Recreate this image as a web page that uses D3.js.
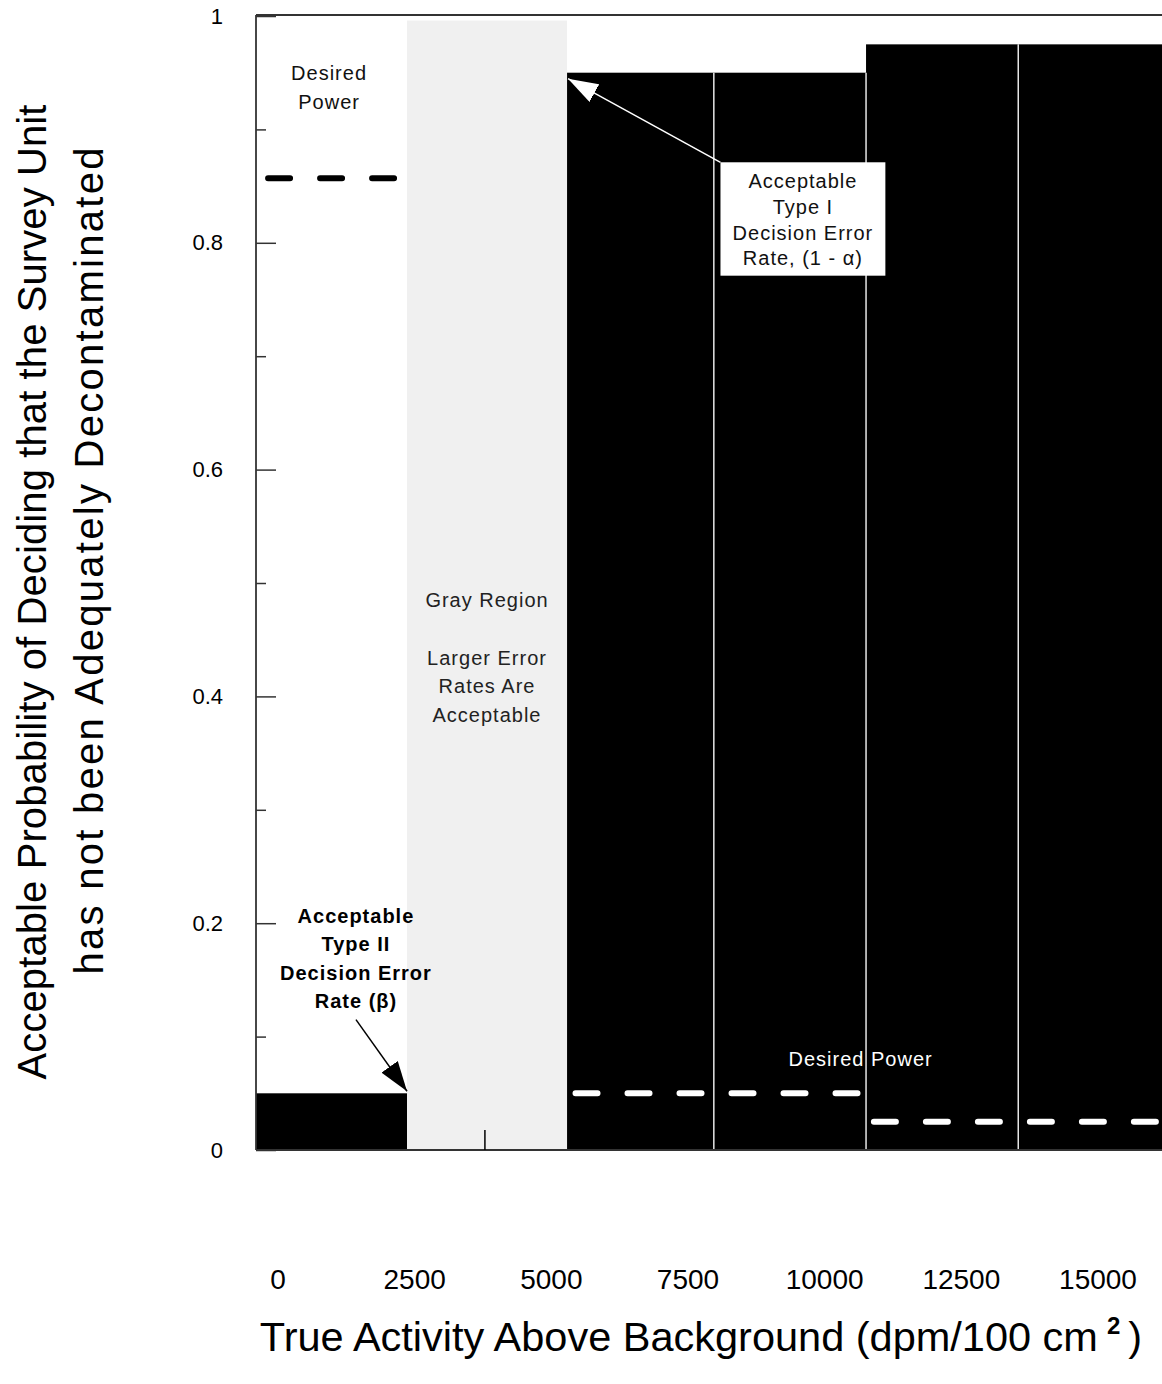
<!DOCTYPE html>
<html>
<head>
<meta charset="utf-8">
<script src="https://cdn.jsdelivr.net/npm/d3@7"></script>
<style>
  body { margin: 0; background: #fff; }
  text { font-family: "Liberation Sans", Arial, sans-serif; }
</style>
</head>
<body>
<svg class="chart"></svg>
<script>
// bins along the activity axis (dpm/100 cm2)
const binEdges = [0, 2500, 5150, 7580, 10100, 12620, 15000];
const binValues = [0.05, 0.996, 0.95, 0.95, 0.975, 0.975];
const binType = ["error", "gray", "error", "error", "error", "error"];

// desired power dashed levels
const powerLevels = [0.857, 0.05, 0.025];
const powerStart = [200, 5290, 10230];
const powerEnd = [2290, 10100, 15000];

const yTicks = [0, 0.2, 0.4, 0.6, 0.8, 1];
const yMinorTicks = [0.1, 0.3, 0.5, 0.7, 0.9];
const xTickLabels = ["0", "2500", "5000", "7500", "10000", "12500", "15000"];
const xMinorTicks = [3790];

const width = 1162, height = 1384;
const margin = { left: 256, right: 0, top: 16, bottom: 234 };

const svg = d3.select(".chart").attr("width", width).attr("height", height);

const x = d3.scaleLinear().domain([0, 15000]).range([margin.left, width - margin.right]);
const y = d3.scaleLinear().domain([0, 1]).range([height - margin.bottom, margin.top]);

const bins = binValues.map((v, i) => ({ x0: binEdges[i], x1: binEdges[i + 1], v: v, type: binType[i] }));

svg.append("defs").selectAll("marker")
  .data([["headBlack", "#000"], ["headWhite", "#fff"]])
  .join("marker")
  .attr("id", d => d[0])
  .attr("viewBox", "0 0 30 20").attr("refX", 30).attr("refY", 10)
  .attr("markerWidth", 30).attr("markerHeight", 20)
  .attr("markerUnits", "userSpaceOnUse").attr("orient", "auto")
  .append("path").attr("d", "M0,0 L30,10 L0,20 Z").attr("fill", d => d[1]);

// bars
svg.append("g").selectAll("rect")
  .data(bins)
  .join("rect")
  .attr("x", d => x(d.x0))
  .attr("width", d => x(d.x1) - x(d.x0))
  .attr("y", d => y(d.v))
  .attr("height", d => y(0) - y(d.v))
  .attr("fill", d => d.type === "gray" ? "#f0f0f0" : "#000");

// thin white separators between adjacent black bins
const seps = bins.filter((d, i) => i > 0 && d.type === "error" && bins[i - 1].type === "error");
svg.append("g").selectAll("line")
  .data(seps)
  .join("line")
  .attr("x1", d => x(d.x0)).attr("x2", d => x(d.x0))
  .attr("y1", y(0)).attr("y2", d => y(Math.min(d.v, bins[binEdges.indexOf(d.x0) - 1].v)))
  .attr("stroke", "#e6e6e6").attr("stroke-width", 1.5);

// desired power dashes
svg.append("g").selectAll("line")
  .data(powerLevels)
  .join("line")
  .attr("x1", (d, i) => x(powerStart[i]))
  .attr("x2", (d, i) => x(powerEnd[i]))
  .attr("y1", d => y(d)).attr("y2", d => y(d))
  .attr("stroke", (d, i) => i === 0 ? "#000" : "#fff")
  .attr("stroke-width", 6)
  .attr("stroke-linecap", "round")
  .attr("stroke-dasharray", "22,30");

// axes frame
const frame = svg.append("g").attr("stroke", "#333").attr("stroke-width", 1.8).attr("fill", "none");
frame.append("line").attr("x1", x(0)).attr("x2", x(0)).attr("y1", y(1) - 1).attr("y2", y(0));
frame.append("line").attr("x1", x(0)).attr("x2", x(15000)).attr("y1", y(1) - 1).attr("y2", y(1) - 1);
frame.append("line").attr("x1", x(0)).attr("x2", x(15000)).attr("y1", y(0)).attr("y2", y(0));

// y axis, ticks pointing inward
const yAxis = svg.append("g").attr("transform", `translate(${x(0)},0)`)
  .call(d3.axisLeft(y).tickValues(yTicks).tickSize(-20).tickPadding(33).tickFormat(d3.format("~g")));
yAxis.select(".domain").remove();
yAxis.selectAll("line").attr("stroke", "#333").attr("stroke-width", 1.5);
yAxis.selectAll("text").attr("font-size", 22).attr("fill", "#000")
  .style("font-family", "'Liberation Sans', Arial, sans-serif");

const yMinor = svg.append("g").attr("transform", `translate(${x(0)},0)`)
  .call(d3.axisLeft(y).tickValues(yMinorTicks).tickSize(-10).tickFormat(""));
yMinor.select(".domain").remove();
yMinor.selectAll("line").attr("stroke", "#333").attr("stroke-width", 1.5);

// x minor tick
svg.append("g").selectAll("line")
  .data(xMinorTicks)
  .join("line")
  .attr("x1", d => x(d)).attr("x2", d => x(d))
  .attr("y1", y(0)).attr("y2", y(0) - 20)
  .attr("stroke", "#000").attr("stroke-width", 1.5);

// x tick labels (spread below the plot)
const xLabelPos = d3.scalePoint().domain(xTickLabels).range([278, 1098]);
svg.append("g").selectAll("text")
  .data(xTickLabels)
  .join("text")
  .attr("x", d => xLabelPos(d))
  .attr("y", 1289)
  .attr("text-anchor", "middle")
  .attr("font-size", 28)
  .text(d => d);

// axis titles
const xTitle = svg.append("text")
  .attr("x", 701).attr("y", 1351)
  .attr("text-anchor", "middle")
  .attr("font-size", 41.5);
xTitle.append("tspan").text("True Activity Above Background (dpm/100 cm");
xTitle.append("tspan").attr("dx", 9).attr("dy", -17).attr("font-size", 24).attr("font-weight", "bold").text("2");
xTitle.append("tspan").attr("dx", 8).attr("dy", 17).text(")");

const yTitleLines = ["Acceptable Probability of Deciding that the Survey Unit", "has not been Adequately Decontaminated"];
const yTitleLen = [975, 827];
svg.append("g").selectAll("text")
  .data(yTitleLines)
  .join("text")
  .attr("transform", (d, i) => `translate(${46 + i * 57},${592 - i * 31}) rotate(-90)`)
  .attr("text-anchor", "middle")
  .attr("font-size", 40)
  .attr("textLength", (d, i) => yTitleLen[i])
  .attr("lengthAdjust", "spacing")
  .text(d => d);

// annotations
function block(lines, cx, yBase, step, opts) {
  const g = svg.append("g");
  g.selectAll("text")
    .data(lines)
    .join("text")
    .attr("x", cx)
    .attr("y", (d, i) => yBase + i * step)
    .attr("text-anchor", "middle")
    .attr("font-size", 20)
    .attr("letter-spacing", 1)
    .attr("font-weight", opts.bold ? "bold" : "normal")
    .attr("fill", opts.fill || "#111")
    .text(d => d);
  return g;
}

block(["Desired", "Power"], x(1210), y(0.944), 29, {});
block(["Gray Region"], x(3825), y(0.479), 0, { fill: "#222" });
block(["Larger Error", "Rates Are", "Acceptable"], x(3825), y(0.428), 28.5, { fill: "#222" });
block(["Desired Power"], x(10010), y(0.074), 0, { fill: "#fff" });

// type I box + arrow
const boxL = x(7690), boxR = x(10420), boxT = y(0.871), boxB = y(0.771);
svg.append("line")
  .attr("x1", boxL).attr("y1", boxT)
  .attr("x2", x(binEdges[2]) + 1).attr("y2", y(binValues[2]) + 6)
  .attr("stroke", "#fff").attr("stroke-width", 1.5)
  .attr("marker-end", "url(#headWhite)");
svg.append("rect")
  .attr("x", boxL).attr("y", boxT)
  .attr("width", boxR - boxL).attr("height", boxB - boxT)
  .attr("fill", "#fff");
block(["Acceptable", "Type I", "Decision Error", "Rate, (1 - \u03b1)"], (boxL + boxR) / 2, y(0.848), 25.7, {});

// type II label + arrow
block(["Acceptable", "Type II", "Decision Error", "Rate (\u03b2)"], x(1655), y(0.2002), 28.4, { bold: true, fill: "#000" });
svg.append("line")
  .attr("x1", x(1655)).attr("y1", y(0.115))
  .attr("x2", x(binEdges[1])).attr("y2", y(binValues[0]) - 2)
  .attr("stroke", "#000").attr("stroke-width", 1.5)
  .attr("marker-end", "url(#headBlack)");
</script>
</body>
</html>
